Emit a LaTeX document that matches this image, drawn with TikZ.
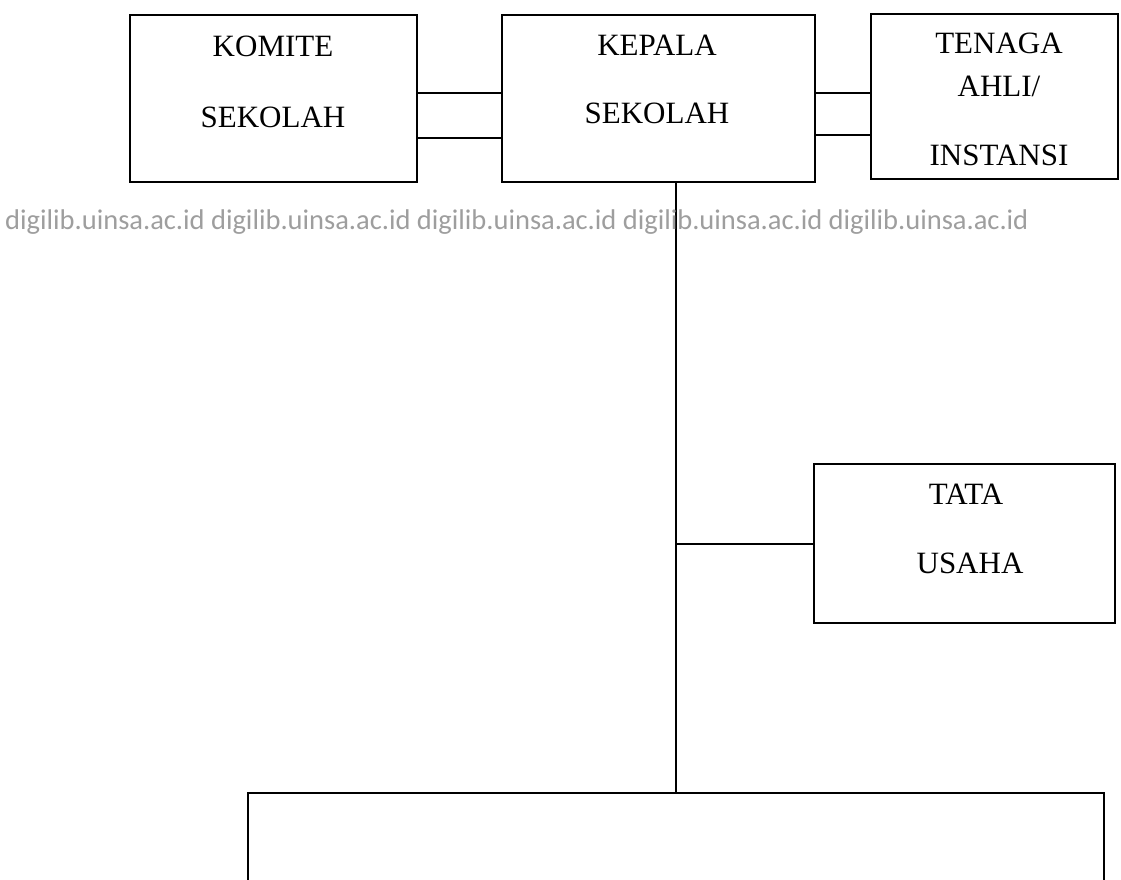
\documentclass[tikz,border=0pt]{standalone}
\usepackage{fontspec}
\setmainfont{Liberation Serif}
\newfontfamily\wmfont{Carlito}
\begin{document}
\begin{tikzpicture}[x=1pt,y=-1pt,
  box/.style={draw=black,line width=2.2pt},
  lbl/.style={font=\fontsize{31}{37}\selectfont,anchor=center,inner sep=0pt},
  conn/.style={draw=black,line width=2.2pt},
  wm/.style={font=\wmfont\fontsize{28.5}{34}\selectfont,text=black!38,anchor=west,inner sep=0pt}]
\useasboundingbox (0,0) rectangle (1121,880);
% boxes
\draw[box] (130,15) rectangle (417,182);
\coordinate (komR1) at (417,93); \coordinate (komR2) at (417,138);
\draw[box] (502,15) rectangle (815,182);
\coordinate (kepL1) at (502,93); \coordinate (kepL2) at (502,138);
\coordinate (kepR1) at (815,93); \coordinate (kepR2) at (815,135);
\coordinate (kepB) at (676,182);
\draw[box] (871,14) rectangle (1118,179);
\coordinate (tenL1) at (871,93); \coordinate (tenL2) at (871,135);
\draw[box] (814,464) rectangle (1115,623);
\coordinate (tuL) at (814,544);
\coordinate (jn) at (676,544);
\draw[box] (248,882) -- (248,793) -- (1104,793) -- (1104,882);
\coordinate (botT) at (676,793);
% labels
\node[lbl] (k1) at (273,46) {KOMITE};
\node[lbl] (k2) at (273,117) {SEKOLAH};
\node[lbl] (p1) at (657,45) {KEPALA};
\node[lbl] (p2) at (657,113) {SEKOLAH};
\node[lbl] (t1) at (999,43) {TENAGA};
\node[lbl] (t2) at (999,86) {AHLI/};
\node[lbl] (t3) at (999,155) {INSTANSI};
\node[lbl] (u1) at (966,494) {TATA};
\node[lbl] (u2) at (970,563) {USAHA};
% connectors
\draw[conn] (komR1) -- (kepL1);
\draw[conn] (komR2) -- (kepL2);
\draw[conn] (kepR1) -- (tenL1);
\draw[conn] (kepR2) -- (tenL2);
\draw[conn] (kepB) -- (botT);
\draw[conn] (jn) -- (tuL);
% watermark
\node[wm] (wmk) at (5,222) {digilib.uinsa.ac.id digilib.uinsa.ac.id digilib.uinsa.ac.id digilib.uinsa.ac.id digilib.uinsa.ac.id};
\end{tikzpicture}
\end{document}
